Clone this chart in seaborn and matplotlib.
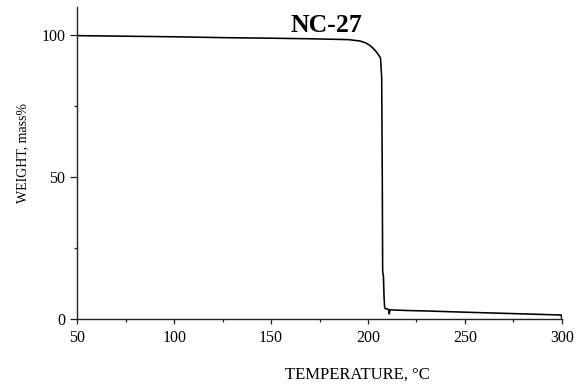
import numpy as np
import pandas as pd
import matplotlib
matplotlib.use('Agg')
import matplotlib.pyplot as plt
import seaborn as sns
from matplotlib.ticker import MultipleLocator

# TGA curve
temperature = [50, 75, 100, 125, 150, 170, 190, 196, 199, 201.5, 203.6, 205.3,
               206.5, 207.1, 207.4, 207.6, 208.0, 208.3, 208.6, 209.0, 210.0,
               210.6, 211.0, 211.4, 212.2, 220, 231.8, 250, 270, 290, 299.8, 300]
weight = [99.9, 99.7, 99.5, 99.2, 99.0, 98.8, 98.5, 98.0, 97.3, 96.2, 94.8, 93.3,
          92.0, 85.0, 50.0, 16.7, 15.0, 8.0, 4.3, 3.6, 3.5,
          3.4, 1.8, 3.3, 3.2, 3.0, 2.8, 2.4, 2.0, 1.6, 1.4, 0.0]

x_ticks = [50, 100, 150, 200, 250, 300]
y_ticks = [0, 50, 100]
title = 'NC-27'

df = pd.DataFrame({'T': temperature, 'W': weight})

sns.set_style('ticks')
plt.rcParams['font.family'] = ['Liberation Serif', 'DejaVu Serif']
plt.rcParams['text.color'] = 'black'
plt.rcParams['axes.labelcolor'] = 'black'
plt.rcParams['xtick.color'] = 'black'
plt.rcParams['ytick.color'] = 'black'

fig = plt.figure(figsize=(5.87, 3.87), dpi=100)
ax = fig.add_axes([77.3 / 587, 1 - 319 / 387, 484.4 / 587, 312 / 387])

sns.lineplot(data=df, x='T', y='W', sort=False, estimator=None,
             color='black', linewidth=1.15, ax=ax)

ax.set_xlim(50, 300)
ax.set_ylim(0, 110)
ax.set_xticks(x_ticks)
ax.set_yticks(y_ticks)
ax.xaxis.set_minor_locator(MultipleLocator(25))
ax.yaxis.set_minor_locator(MultipleLocator(25))
ax.tick_params(axis='x', which='major', length=3.6, width=0.9, pad=4, labelsize=11.5, color='#222222')
ax.tick_params(axis='x', which='minor', length=2.2, width=0.9, color='#222222')
ax.tick_params(axis='y', which='major', length=5, width=0.9, pad=3.5, labelsize=11.5, color='#222222')
ax.tick_params(axis='y', which='minor', length=2.4, width=0.9, color='#222222')

for s in ['top', 'right']:
    ax.spines[s].set_visible(False)
for s in ['left', 'bottom']:
    ax.spines[s].set_linewidth(1.0)
    ax.spines[s].set_color('#222222')

ax.set_xlabel('TEMPERATURE, °C', fontsize=12)
ax.set_ylabel('WEIGHT, mass%', fontsize=10)
ax.xaxis.set_label_coords(0.578, -0.152)
ax.yaxis.set_label_coords(-0.10, 0.532)

ax.text(0.514, 0.919, title, transform=ax.transAxes, ha='center', va='baseline',
        fontsize=18.5, fontweight='bold')

fig.savefig('out.png', dpi=100)
